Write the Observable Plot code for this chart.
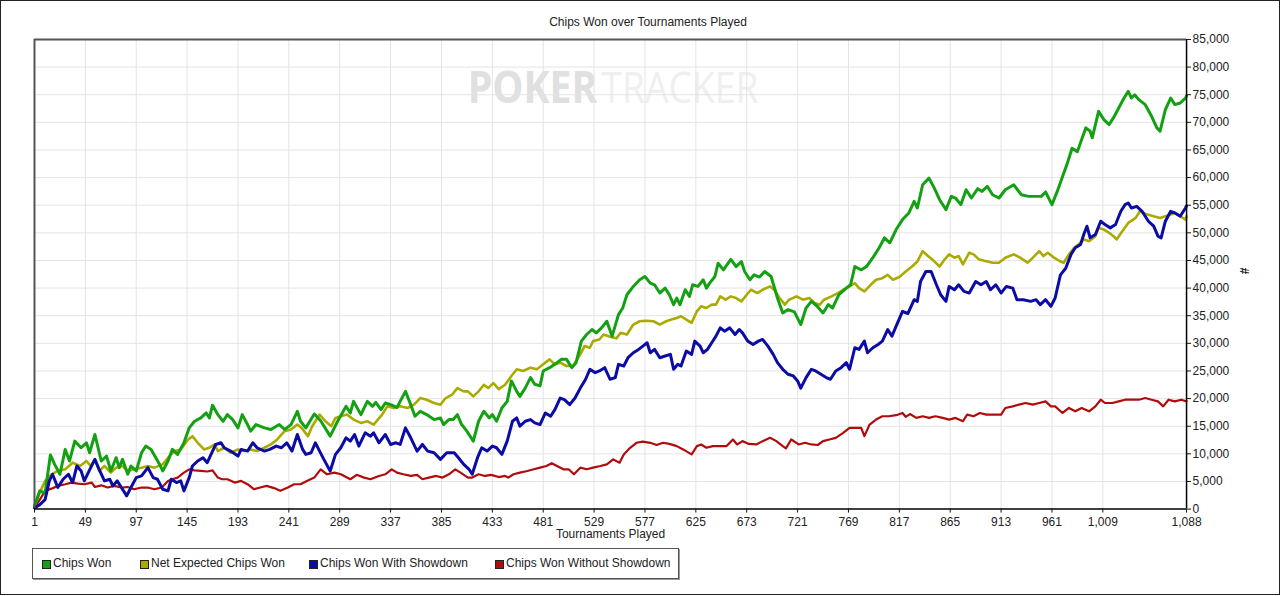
<!DOCTYPE html>
<html>
<head>
<meta charset="utf-8">
<script src="https://cdn.jsdelivr.net/npm/d3@7"></script>
<script src="https://cdn.jsdelivr.net/npm/@observablehq/plot@0.6"></script>
<style>
  html, body { margin: 0; padding: 0; background: #fff; }
  #wrap { position: relative; width: 1280px; height: 595px; box-sizing: border-box; border: 1px solid #222; font-family: "Liberation Sans", Arial, sans-serif; color: #222; overflow: hidden; }
  #chart { position: absolute; left: -1px; top: -1px; }
  #title { position: absolute; left: 0; top: 14px; width: 1294px; text-align: center; font-size: 12px; color: #222; }
  #legend { position: absolute; left: 31px; top: 547px; width: 645px; height: 29px; border: 1px solid #555; box-shadow: 1px 1px 0 #999; background: #fff; }
  .item { position: absolute; top: 0; height: 29px; line-height: 29px; font-size: 12px; color: #222; white-space: nowrap; }
  .sw { position: absolute; top: 11px; width: 7px; height: 7px; border: 1px solid #222; }
</style>
</head>
<body>
<div id="wrap">
  <div id="chart"></div>
  <div id="title">Chips Won over Tournaments Played</div>
  <div id="legend"></div>
</div>
<script>
// ---- Data (values in thousands of chips) ----
const seriesNames = ["Chips Won", "Net Expected Chips Won", "Chips Won With Showdown", "Chips Won Without Showdown"];

const greenT = [1,6,11,16,20,25,30,34,39,45,50,53,58,64,69,73,78,81,84,89,92,97,102,106,111,119,122,127,131,136,142,147,152,158,163,166,169,174,179,183,188,193,197,202,205,210,218,224,232,237,243,249,252,257,265,271,280,287,295,299,302,309,315,320,323,328,332,337,343,351,356,360,365,371,378,384,387,392,396,400,404,409,415,420,425,430,433,437,442,447,451,456,459,464,469,473,478,481,487,494,498,503,508,512,517,522,527,531,536,541,546,552,556,560,566,572,577,582,586,591,596,600,604,607,610,615,619,622,627,632,635,638,643,646,651,658,663,668,671,676,680,685,690,696,702,707,712,718,724,729,734,739,745,750,754,760,767,771,775,781,786,792,798,803,808,814,820,826,831,834,839,845,850,855,861,866,870,875,880,885,891,895,900,905,911,917,925,932,939,946,951,955,961,966,971,975,980,985,989,993,997,999,1005,1010,1015,1019,1024,1029,1033,1036,1039,1043,1049,1055,1060,1063,1068,1073,1077,1082,1087,1088];
const greenV = [0.5,3.3,2.9,9.8,8.1,6.3,10.8,8.7,12.3,11.1,12.0,10.2,13.5,8.7,9.6,6.9,9.3,7.5,9.0,6.3,7.8,6.9,10.2,11.4,10.8,8.1,6.9,8.7,10.8,9.9,12.0,14.7,15.9,16.5,17.4,16.5,18.8,17.1,15.9,17.1,16.2,14.7,17.1,15.3,14.1,15.3,14.7,14.4,15.3,14.4,15.3,17.7,15.9,14.7,17.2,16.0,13.2,15.9,18.6,17.4,19.5,17.1,19.5,18.6,19.3,18.0,19.2,18.9,18.4,21.3,18.9,16.8,17.7,17.1,16.2,16.5,15.3,16.2,16.2,17.1,15.3,14.1,12.3,15.9,17.7,16.5,17.1,15.9,18.3,19.5,23.2,21.3,20.4,21.9,23.8,22.6,22.3,25.0,25.6,26.5,27.1,27.1,25.6,26.5,30.4,31.6,32.5,31.9,32.8,34.0,31.3,35.2,36.4,38.8,40.3,41.5,42.1,40.9,40.6,39.1,40.0,38.8,37.0,38.2,37.0,39.7,38.5,40.6,40.3,41.5,40.0,40.9,42.1,44.5,43.3,45.2,43.9,44.8,43.0,41.5,42.4,42.0,43.0,42.1,38.2,35.5,36.1,35.7,33.4,36.4,37.6,36.8,35.5,37.0,36.4,38.8,40.0,40.6,43.9,43.3,43.9,45.5,47.3,49.1,48.2,50.6,52.4,53.6,55.7,54.5,58.7,59.9,58.1,56.0,54.2,56.6,56.3,55.1,57.8,56.3,58.0,57.5,58.4,56.9,56.3,57.8,58.7,56.9,56.6,56.6,56.6,57.4,55.1,57.5,60.2,62.3,65.3,64.7,66.9,69.0,68.4,67.2,72.0,70.5,69.6,70.8,72.6,74.4,75.6,74.4,75.0,74.1,73.2,71.1,69.0,68.4,72.3,74.4,73.2,73.5,74.4,74.8];

const yellowT = [1,6,11,17,23,30,37,44,50,54,58,62,67,73,78,84,89,95,102,108,114,122,127,133,139,146,150,155,161,166,171,174,180,186,193,199,205,211,218,224,230,237,243,249,253,259,263,270,275,281,285,290,296,302,309,315,321,325,329,334,340,346,353,359,365,371,378,384,389,395,400,406,410,415,420,425,429,434,439,445,451,456,462,469,475,481,487,492,497,503,509,516,520,525,528,534,538,544,550,554,560,566,572,578,585,591,597,602,607,611,616,621,626,630,635,640,644,648,653,658,663,668,673,677,683,688,695,699,704,709,713,720,726,732,737,742,746,753,759,764,770,775,779,784,790,795,801,806,811,817,823,829,834,839,844,848,855,859,864,869,873,877,883,887,892,898,905,911,917,925,931,938,943,949,953,957,963,968,972,977,982,986,991,996,1002,1005,1010,1015,1019,1022,1027,1033,1040,1044,1051,1057,1063,1068,1073,1077,1082,1087,1088];
const yellowV = [0.5,3.0,5.1,6.3,6.9,7.2,8.4,7.8,8.7,7.8,9.0,6.9,7.8,6.6,7.5,7.8,6.9,7.2,7.5,7.8,7.5,8.1,9.3,10.5,10.8,12.6,13.2,12.0,10.8,11.1,11.7,10.5,11.1,10.2,10.8,10.5,10.8,10.5,11.1,11.7,12.6,14.1,14.4,15.3,14.7,13.2,15.0,17.1,16.0,15.0,16.5,16.8,17.1,16.2,15.6,15.9,15.3,16.2,17.1,18.6,18.3,18.6,18.3,18.9,20.1,19.8,19.2,18.9,20.1,20.7,21.9,21.3,21.3,20.4,21.3,22.5,21.9,22.8,21.7,22.5,24.1,25.3,25.0,25.6,25.3,26.2,27.1,26.2,26.5,25.9,25.9,28.0,29.5,29.2,30.4,30.7,31.6,31.2,30.9,31.9,31.6,33.4,34.0,34.1,34.0,33.4,34.0,34.3,34.6,34.9,34.3,33.7,35.8,36.7,36.4,37.0,37.0,38.5,37.9,38.5,38.2,37.6,38.8,39.7,39.1,39.7,40.3,39.7,38.2,37.0,37.9,38.5,37.9,38.2,37.3,37.0,37.9,38.5,39.1,39.7,40.3,40.9,40.0,39.4,40.6,41.5,41.8,42.4,41.5,42.0,43.0,43.9,44.8,46.7,45.8,45.2,43.9,45.0,46.1,45.5,45.8,44.3,46.4,46.1,45.2,44.9,44.6,44.6,45.5,46.1,45.5,44.6,45.5,46.7,45.8,46.4,45.5,44.9,44.6,46.1,47.3,47.9,48.8,48.5,49.4,50.9,50.6,50.0,49.4,48.8,50.2,51.8,52.7,53.9,53.3,53.0,52.7,53.0,53.3,53.6,53.0,52.4,53.0];

const blueT = [1,6,11,15,18,23,28,33,37,41,45,48,53,58,62,67,72,75,79,83,88,92,97,102,108,113,117,122,127,130,135,139,142,147,150,155,160,164,169,172,177,180,186,193,196,202,207,211,218,223,229,234,239,244,249,254,257,262,266,270,274,280,285,290,295,299,303,307,313,318,321,326,332,337,342,346,351,356,362,367,372,378,384,390,397,401,406,411,414,419,423,428,433,437,442,447,452,456,459,464,469,473,478,483,488,492,497,501,506,511,516,521,525,530,534,539,544,549,552,557,561,566,571,575,579,582,586,591,596,601,604,608,611,616,621,624,629,632,636,640,644,648,652,657,662,666,669,674,679,684,688,693,698,702,707,712,717,721,724,729,734,738,743,748,752,757,762,767,770,775,779,784,787,792,797,801,806,810,814,820,825,831,834,837,842,847,852,856,861,864,869,873,878,883,889,894,899,903,908,913,918,924,928,934,941,946,950,955,960,964,969,974,979,983,988,991,994,997,1002,1007,1011,1016,1021,1026,1030,1033,1036,1041,1046,1052,1057,1061,1064,1068,1073,1077,1082,1087,1088];
const blueV = [0.2,0.8,1.7,5.1,6.3,3.9,5.4,6.3,4.8,7.8,6.9,5.1,7.1,9.0,7.2,5.1,5.4,4.2,5.1,3.9,2.4,3.9,5.7,6.0,7.5,5.7,5.4,3.6,3.3,5.4,4.8,5.1,3.3,5.7,7.8,8.7,9.3,8.4,10.5,11.7,12.0,11.1,10.5,9.6,10.8,10.5,12.0,11.1,10.5,10.8,11.4,11.1,12.0,10.5,13.5,10.8,9.9,10.2,12.0,10.5,9.0,6.9,9.9,11.1,12.9,12.3,13.5,11.4,13.8,13.2,13.8,12.0,13.5,11.7,12.0,11.7,14.7,12.9,10.5,11.7,10.5,10.2,9.0,10.2,10.2,9.3,8.1,7.2,6.3,9.3,11.1,10.5,11.4,11.1,9.9,12.3,15.9,16.5,15.0,15.9,16.2,15.6,15.3,17.4,16.8,18.0,20.1,19.8,18.9,20.1,21.9,23.5,25.3,24.7,25.0,25.6,23.5,23.8,26.2,25.9,27.4,28.3,28.9,29.5,30.1,28.3,28.9,27.4,27.7,28.0,25.3,26.2,25.9,28.6,28.0,30.4,29.5,28.3,28.9,30.1,31.3,32.8,32.2,32.8,31.6,32.5,31.9,30.4,29.8,30.4,30.7,29.5,28.0,26.5,25.3,24.4,24.1,23.2,21.9,23.8,25.3,25.0,24.4,23.8,23.5,25.0,25.6,26.5,25.3,29.2,28.9,30.4,28.3,29.2,29.8,30.4,32.5,31.3,33.1,35.8,35.4,37.9,37.6,41.2,43.0,43.0,40.6,38.8,37.6,40.3,39.7,40.6,39.4,39.1,41.2,40.6,41.2,39.7,40.6,39.1,40.3,40.0,37.9,37.9,37.6,37.9,37.0,37.9,36.7,38.2,42.4,43.6,46.1,47.3,47.9,49.7,51.2,49.1,49.7,52.1,51.5,50.9,51.5,53.9,55.1,55.4,54.5,54.8,53.9,52.1,51.2,49.4,49.1,52.1,53.9,53.6,53.0,54.5,54.9];

const redT = [1,6,11,17,23,30,36,42,48,55,58,64,70,76,83,89,95,102,108,114,121,127,131,136,142,147,152,158,164,169,174,178,183,190,196,202,208,214,220,227,233,240,246,252,258,265,271,277,284,290,299,305,312,318,326,332,338,343,349,356,362,367,373,380,386,392,398,403,410,414,420,426,432,439,445,448,453,459,466,472,478,484,489,494,500,505,510,516,522,528,535,541,547,553,557,563,569,575,582,588,594,600,607,613,621,626,630,635,641,647,654,660,664,669,675,682,688,695,701,707,710,715,722,728,734,740,745,751,757,764,770,776,781,784,789,795,801,807,814,820,823,827,833,839,845,851,858,864,870,877,881,887,893,899,906,913,917,924,930,936,943,949,955,960,964,971,977,983,989,996,1002,1007,1011,1018,1024,1030,1036,1043,1049,1055,1061,1066,1071,1077,1083,1088];
const redV = [0.2,1.7,3.3,3.7,4.2,4.5,4.8,4.6,4.5,4.8,4.0,4.3,3.9,4.2,3.9,4.0,3.6,3.9,3.9,3.6,3.9,5.1,5.4,5.7,6.6,7.2,7.0,6.9,6.8,7.0,5.7,5.4,5.4,4.8,5.1,4.5,3.6,3.9,4.2,3.8,3.3,3.9,4.5,4.5,5.1,5.7,7.2,6.3,6.6,6.3,5.4,6.2,5.7,5.4,6.0,6.3,7.2,6.6,6.3,6.0,6.2,5.4,5.7,6.0,5.7,6.3,7.2,6.6,5.7,5.7,6.3,6.0,6.2,5.8,6.0,5.7,6.3,6.6,6.9,7.2,7.5,7.8,8.3,7.8,7.2,7.2,6.3,7.5,7.2,7.5,7.8,8.1,9.0,8.4,9.9,11.1,12.0,12.2,12.0,11.6,12.0,11.8,11.4,10.8,9.9,11.4,11.7,11.1,11.4,11.4,11.4,12.6,11.7,12.3,11.8,11.7,12.3,12.9,12.3,11.4,11.0,12.6,11.7,12.0,11.7,11.6,12.3,12.6,12.9,13.8,14.7,14.7,14.7,13.2,15.3,16.2,16.8,16.8,17.0,17.4,16.7,17.2,16.5,16.8,16.5,16.8,16.5,16.2,16.5,15.9,17.1,16.8,17.4,17.1,17.1,17.1,18.3,18.6,18.9,19.2,18.9,19.2,19.5,18.6,18.6,17.4,18.3,17.7,18.3,17.7,18.6,19.8,19.2,19.2,19.5,19.8,19.8,19.8,20.1,19.8,19.5,18.6,19.8,19.5,19.8,19.5];

const xTicks = [1,49,97,145,193,241,289,337,385,433,481,529,577,625,673,721,769,817,865,913,961,1009,1088];
const yTicks = [0,5000,10000,15000,20000,25000,30000,35000,40000,45000,50000,55000,60000,65000,70000,75000,80000,85000];

// ---- Styling (kept separate from data) ----
const colors = ["#13a013", "#aaaa00", "#0b0ba6", "#b00c0c"];
const widths = [3, 2.6, 3, 2.2];

const toRows = (T, V) => T.map((t, i) => ({t, v: V[i] * 1000}));
const rows = [toRows(greenT, greenV), toRows(yellowT, yellowV), toRows(blueT, blueV), toRows(redT, redV)];
const drawOrder = [3, 1, 0, 2];

const fmt = d3.format(",");
const chart = Plot.plot({
  width: 1280,
  height: 541,
  marginLeft: 34,
  marginRight: 93,
  marginTop: 39,
  marginBottom: 32,
  style: {fontFamily: "'Liberation Sans', Arial, sans-serif", fontSize: "12px", color: "#111", background: "transparent", overflow: "visible"},
  x: {domain: [1, 1088]},
  y: {domain: [0, 85000]},
  marks: [
    Plot.gridX(xTicks.slice(1, -1), {stroke: "#e4e4e4", strokeOpacity: 1}),
    Plot.gridY(yTicks.slice(1, -1), {stroke: "#e4e4e4", strokeOpacity: 1}),
    ...drawOrder.map(i => Plot.line(rows[i], {x: "t", y: "v", stroke: colors[i], strokeWidth: widths[i], strokeLinejoin: "round"})),
    Plot.ruleY([85000], {stroke: "#555", strokeWidth: 2}),
    Plot.ruleX([1], {stroke: "#555", strokeWidth: 2}),
    Plot.ruleY([0], {stroke: "#000", strokeWidth: 1.5}),
    Plot.ruleX([1088], {stroke: "#000", strokeWidth: 1.5}),
    Plot.axisX({ticks: xTicks, tickFormat: fmt, tickSize: 4, tickPadding: 4, label: null, fill: "#222"}),
    Plot.axisY({anchor: "right", ticks: yTicks, tickFormat: fmt, tickSize: 4, tickPadding: 2, label: null, fill: "#222"}),
    Plot.text(["Tournaments Played"], {frameAnchor: "bottom", dy: 29, fontSize: 12, fill: "#222"}),
    Plot.text(["#"], {frameAnchor: "right", dx: 57, rotate: 90, fontSize: 12, fontWeight: "bold", fill: "#222"})
  ]
});
document.getElementById("chart").appendChild(chart);

// watermark (behind grid)
const svg = d3.select(chart);
const wm = svg.insert("g", ":first-child")
  .attr("font-family", "'Open Sans', 'DejaVu Sans', sans-serif")
  .attr("text-anchor", "start");
wm.append("text").attr("x", 468).attr("y", 103).attr("font-size", 44).attr("font-weight", "bold")
  .attr("text-anchor", "start").attr("fill", "#e0e0e0")
  .attr("textLength", 130).attr("lengthAdjust", "spacingAndGlyphs").text("POKER");
wm.append("text").attr("x", 602).attr("y", 103).attr("font-size", 44).attr("font-weight", "normal")
  .attr("text-anchor", "start").attr("fill", "#efefef")
  .attr("textLength", 157).attr("lengthAdjust", "spacingAndGlyphs").text("TRACKER");

// legend
const legend = document.getElementById("legend");
const swX = [9, 107, 276, 462];
seriesNames.forEach((name, i) => {
  const it = document.createElement("div");
  it.className = "item";
  it.style.left = swX[i] + "px";
  it.innerHTML = `<span class="sw" style="left:0;background:${colors[i]}"></span><span style="position:absolute;left:11px;">${name}</span>`;
  legend.appendChild(it);
});
</script>
</body>
</html>
